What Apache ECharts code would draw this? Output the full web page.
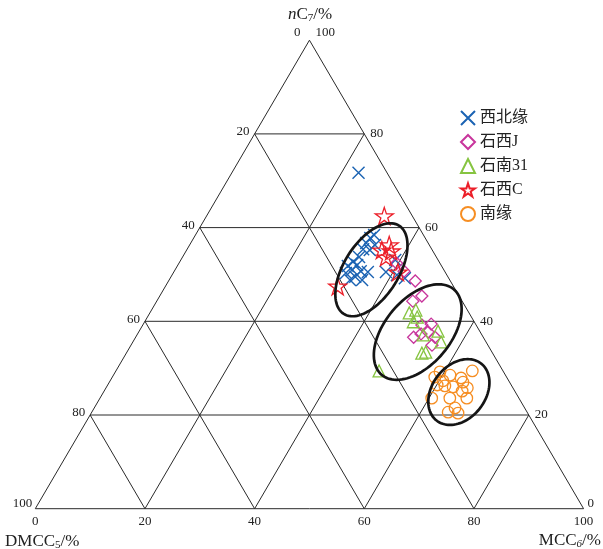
<!DOCTYPE html>
<html>
<head>
<meta charset="utf-8">
<script src="https://cdn.jsdelivr.net/npm/echarts@6/dist/echarts.min.js"></script>
<style>
  html, body { margin: 0; padding: 0; background: #fff; }
  #chart { width: 603px; height: 549px; }
</style>
</head>
<body>
<div id="chart"></div>
<script>
// Ternary compositions stored as [MCC6, nC7] in %, DMCC5 = 100 - MCC6 - nC7.
const ticks = [0, 20, 40, 60, 80, 100];
const innerTicks = [20, 40, 60, 80];

const seriesNames = ['西北缘', '石西J', '石南31', '石西C', '南缘'];

const xibeiyuan = [
  [23.1, 71.7], [32.2, 57.8], [32.6, 58.4], [32.0, 56.7], [33.8, 56.3],
  [32.1, 55.4], [33.4, 55.2], [31.6, 52.7], [31.1, 51.8], [32.7, 52.0],
  [32.3, 51.0], [34.0, 50.7], [31.5, 50.3], [33.6, 49.5], [35.2, 48.8],
  [35.4, 50.5], [38.7, 50.5], [41.0, 49.9], [42.8, 49.2], [39.1, 53.1],
  [32.2, 53.7], [33.0, 48.8]
];
const shixiJ = [
  [39.7, 52.4], [41.9, 50.7], [45.0, 48.6], [47.8, 45.4], [46.7, 44.3],
  [50.9, 39.2], [52.5, 39.4], [52.8, 37.7], [54.6, 36.6], [50.7, 36.6],
  [54.9, 34.9], [51.7, 37.3]
];
const shinan31 = [
  [47.3, 41.8], [48.2, 42.4], [49.0, 39.9], [49.2, 40.9], [54.5, 37.9],
  [56.2, 35.6], [52.2, 37.1], [53.9, 33.2], [54.5, 33.4], [48.0, 29.4]
];
const shixiC = [
  [32.4, 62.5], [36.4, 56.3], [35.6, 55.2], [37.4, 55.0], [37.1, 53.7],
  [40.9, 50.5], [31.4, 47.5]
];
const nanyuan = [
  [59.2, 29.2], [61.4, 28.5], [63.7, 27.9], [65.0, 29.4], [60.1, 26.4],
  [60.7, 27.3], [63.2, 26.0], [64.5, 27.0], [65.9, 25.8], [65.3, 25.1],
  [63.8, 23.6], [66.9, 23.6], [60.5, 23.6], [65.8, 21.5], [65.0, 20.6],
  [66.9, 20.4], [58.8, 28.1], [61.6, 26.2]
];

// Group outlines: centre [MCC6, nC7], semi-axes (in % of the base), tilt in degrees
const groupCenters = [[35.8, 51.0], [50.9, 37.7], [64.8, 24.9]];
const groupAxes = [[9.5, 5.0], [10.2, 6.0], [6.6, 4.85]];
const groupTilts = [58, 50, 52];

// ternary (MCC6, nC7) -> cartesian (x along the base, y = nC7 height)
const toXY = (mcc6, nc7) => [mcc6 + nc7 / 2, nc7];

const serif = "'Liberation Serif', 'Times New Roman', serif";
const legendFont = "'Liberation Serif', 'Noto Sans CJK SC', serif";

// triangle frame and interior grid
const segments = [];
const seg = (a, b) => { const p = toXY(a[0], a[1]), q = toXY(b[0], b[1]); segments.push([p[0], p[1], q[0], q[1]]); };
seg([0, 0], [100, 0]);
seg([100, 0], [0, 100]);
seg([0, 100], [0, 0]);
innerTicks.forEach(v => {
  seg([0, v], [100 - v, v]);       // constant nC7
  seg([v, 0], [v, 100 - v]);       // constant MCC6
  seg([100 - v, 0], [0, 100 - v]); // constant DMCC5
});

// tick labels on the three sides
const tickLabels = [];
ticks.forEach(v => {
  tickLabels.push({ pos: toXY(v, 0), text: String(v), align: 'center', dx: 0, dy: 13 });
  let l = { pos: toXY(0, 100 - v), text: String(v), align: 'right', dx: -5, dy: -2 };
  if (v === 0) { l.dx = -9; l.dy = -8; }
  if (v === 100) { l.dx = -3; l.dy = -5; }
  tickLabels.push(l);
  let r = { pos: toXY(100 - v, v), text: String(v), align: 'left', dx: 6, dy: 0 };
  if (v === 100) { r.dx = 6; r.dy = -8; }
  if (v === 0) { r.dx = 4; r.dy = -5; }
  tickLabels.push(r);
});

const groupData = groupCenters.map((c, i) => {
  const p = toXY(c[0], c[1]);
  return [p[0], p[1], groupAxes[i][0], groupAxes[i][1], groupTilts[i]];
});

const starPath = 'path://M50,0L61.2,34.5L97.6,34.5L68.2,55.9L79.4,90.5L50,69.1L20.6,90.5L31.8,55.9L2.4,34.5L38.8,34.5Z';
const crossPath = 'path://M0,0L10,10M0,10L10,0';

function pointSeries(name, data, symbol, size, color, bw) {
  return {
    name: name,
    type: 'scatter',
    data: data.map(d => toXY(d[0], d[1])),
    symbol: symbol,
    symbolSize: size,
    symbolKeepAspect: true,
    itemStyle: { color: 'rgba(0,0,0,0)', borderColor: color, borderWidth: bw, opacity: 1 },
    z: 5,
    silent: true
  };
}

const subStyle = { fontFamily: serif, fontSize: 11, lineHeight: 11, verticalAlign: 'bottom' };

const chart = echarts.init(document.getElementById('chart'), null, { renderer: 'canvas' });
chart.setOption({
  animation: false,
  backgroundColor: '#fff',
  grid: { left: 35.3, right: 19.4, top: 40.2, bottom: 40.3 },
  xAxis: { type: 'value', min: 0, max: 100, show: false },
  yAxis: { type: 'value', min: 0, max: 100, show: false },
  legend: {
    orient: 'vertical',
    left: 455,
    top: 105,
    itemWidth: 14,
    itemHeight: 14,
    itemGap: 8,
    data: seriesNames,
    textStyle: { fontFamily: legendFont, fontSize: 16, color: '#222', lineHeight: 16 }
  },
  graphic: [
    {
      type: 'text', x: 310, y: 15,
      style: {
        text: '{i|n}C{s|7}/%', align: 'center', verticalAlign: 'middle', fill: '#222',
        fontFamily: serif, fontSize: 17, lineHeight: 17,
        rich: {
          i: { fontStyle: 'italic', fontFamily: serif, fontSize: 17, lineHeight: 17 },
          s: subStyle
        }
      }
    },
    {
      type: 'text', x: 5, y: 542,
      style: {
        text: 'DMCC{s|5}/%', align: 'left', verticalAlign: 'middle', fill: '#222',
        fontFamily: serif, fontSize: 17, lineHeight: 17,
        rich: { s: subStyle }
      }
    },
    {
      type: 'text', x: 601, y: 541,
      style: {
        text: 'MCC{s|6}/%', align: 'right', verticalAlign: 'middle', fill: '#222',
        fontFamily: serif, fontSize: 17, lineHeight: 17,
        rich: { s: Object.assign({}, subStyle, { fontStyle: 'italic' }) }
      }
    }
  ],
  series: [
    {
      type: 'custom',
      silent: true,
      z: 1,
      data: segments,
      encode: { x: [0, 2], y: [1, 3] },
      renderItem: function (params, api) {
        const a = api.coord([api.value(0), api.value(1)]);
        const b = api.coord([api.value(2), api.value(3)]);
        return {
          type: 'line',
          shape: { x1: a[0], y1: a[1], x2: b[0], y2: b[1] },
          style: { stroke: '#2a2a2a', lineWidth: 1 }
        };
      }
    },
    {
      type: 'custom',
      silent: true,
      z: 2,
      data: tickLabels.map(t => t.pos),
      encode: { x: 0, y: 1 },
      renderItem: function (params, api) {
        const t = tickLabels[params.dataIndex];
        const p = api.coord(t.pos);
        return {
          type: 'text',
          x: p[0] + t.dx,
          y: p[1] + t.dy,
          style: {
            text: t.text, align: t.align, verticalAlign: 'middle',
            fontFamily: serif, fontSize: 13, fill: '#222'
          }
        };
      }
    },
    pointSeries(seriesNames[0], xibeiyuan, crossPath, 12, '#1b63b3', 1.4),
    pointSeries(seriesNames[1], shixiJ, 'diamond', 12, '#c8359c', 1.3),
    pointSeries(seriesNames[2], shinan31, 'triangle', 12, '#86c440', 1.3),
    pointSeries(seriesNames[3], shixiC, starPath, 18, '#ec1f29', 1.3),
    pointSeries(seriesNames[4], nanyuan, 'circle', 11.5, '#f68e23', 1.3),
    {
      type: 'custom',
      silent: true,
      z: 8,
      data: groupData,
      encode: { x: 0, y: 1 },
      renderItem: function (params, api) {
        const c = api.coord([api.value(0), api.value(1)]);
        const unit = api.size([1, 0])[0];
        const a = api.value(2) * unit, b = api.value(3) * unit;
        const th = api.value(4) * Math.PI / 180;
        const pts = [];
        for (let k = 0; k < 96; k++) {
          const t = 2 * Math.PI * k / 96;
          const ex = a * Math.cos(t), ey = b * Math.sin(t);
          pts.push([
            c[0] + ex * Math.cos(th) - ey * Math.sin(th),
            c[1] - (ex * Math.sin(th) + ey * Math.cos(th))
          ]);
        }
        return {
          type: 'polygon',
          shape: { points: pts },
          style: { fill: 'none', stroke: '#151515', lineWidth: 2.7 }
        };
      }
    }
  ]
});
</script>
</body>
</html>
